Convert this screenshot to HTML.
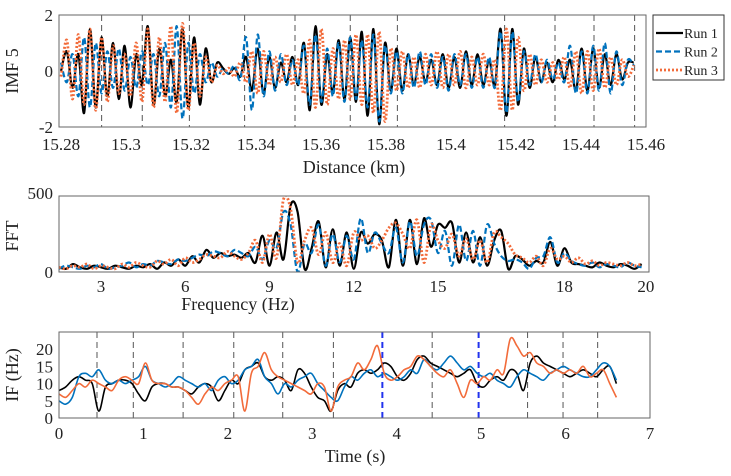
<!DOCTYPE html>
<html><head><meta charset="utf-8"><style>
body{margin:0;background:#fff}
svg text{font-family:"Liberation Serif",serif;fill:#222}
</style></head><body>
<svg id="s" width="731" height="471" xmlns="http://www.w3.org/2000/svg"></svg>
<script>
// ---------- data ----------
const imfStart=15.28, imfStep=0.00178;
const imfRun1=[0,0.7,-0.6,0.6,-1.5,1.5,-1.3,1.2,-0.9,1.0,-1.0,0.9,-1.3,0.6,-0.5,1.6,-1.2,0.8,-0.9,0.4,-1.1,1.5,-1.3,1.2,-1.2,0.8,-0.4,0.3,0.1,-0.1,0.1,-0.2,0.5,-0.7,0.8,-0.8,0.5,-0.6,0.3,-0.4,0.5,-0.5,1.0,-1.4,1.6,-1.2,0.6,-0.8,1.1,-1.0,1.2,-1.1,1.4,-1.6,1.5,-1.9,1.0,-0.7,0.8,-0.7,0.6,-0.5,0.5,-0.4,0.4,-0.5,0.6,-0.6,0.5,-0.6,0.7,-0.5,0.6,-0.5,0.4,-0.5,1.5,-1.6,1.5,-1.2,0.8,-0.6,0.5,-0.4,0.3,-0.4,0.4,-0.3,0.4,-0.7,0.8,-0.7,0.8,-0.6,0.6,-0.5,0.6,-0.3,0.3,0.3];
const imfRun2=[0.3,-0.4,0.6,-0.9,1.2,-1.3,1.0,-0.8,0.7,-0.6,0.8,-0.7,0.5,-0.6,0.7,-0.5,0.6,-0.9,1.0,-1.3,1.6,-1.7,1.0,-0.8,0.6,-0.4,0.3,-0.2,0.1,-0.1,0.2,-0.3,1.2,-1.4,1.3,-0.9,0.7,-0.7,0.6,-0.5,0.4,-0.5,0.9,-1.2,1.3,-1.1,0.8,-0.9,1.0,-1.1,1.2,-1.0,1.1,-1.3,1.3,-1.8,0.9,-0.8,0.7,-0.8,0.6,-0.6,0.7,-0.5,0.6,-0.6,0.5,-0.7,0.6,-0.5,0.6,-0.6,0.5,-0.6,0.5,-0.6,1.4,-1.5,1.4,-1.1,0.7,-0.5,0.6,-0.4,0.4,-0.3,0.3,-0.4,0.9,-0.8,0.7,-0.8,0.9,-0.7,1.0,-0.8,0.7,-0.5,0.4,0.2];
const imfRun3=[-0.2,1.1,-1.0,1.3,-1.2,1.5,-1.4,1.2,-1.1,0.9,-0.8,0.6,-0.9,1.0,-1.1,1.5,-1.3,1.2,-1.1,1.6,-1.5,1.7,-1.4,1.0,-0.9,0.5,-0.4,0.2,-0.1,0.1,-0.2,0.3,-0.4,0.7,-0.8,0.7,-0.5,0.5,-0.4,0.6,-0.5,0.4,-0.8,1.1,-1.3,1.5,-1.2,0.8,-1.0,1.1,-1.0,1.3,-1.2,1.3,-1.5,1.4,-1.8,0.8,-0.7,0.7,-0.6,0.5,-0.6,0.6,-0.5,0.7,-0.6,0.6,-0.5,0.7,-0.6,0.5,-0.5,0.6,-0.5,0.4,-1.4,1.5,-1.4,1.2,-0.7,0.6,-0.5,0.4,-0.4,0.3,-0.3,0.5,-0.6,0.7,-0.8,0.7,-0.7,0.8,-0.6,0.5,-0.5,0.4,-0.2,0.2];
const imfDashes=[15.2925,15.305,15.3195,15.3365,15.352,15.369,15.3835,15.4165,15.432,15.444,15.4565];
const imfXTicks=[15.28,15.3,15.32,15.34,15.36,15.38,15.4,15.42,15.44,15.46];
const imfXLabels=["15.28","15.3","15.32","15.34","15.36","15.38","15.4","15.42","15.44","15.46"];
const imfYTicks=[-2,0,2];

const fftStart=1.5, fftStep=0.25;
const fftRun1=[30,20,50,30,20,40,30,20,40, 30,20,40,30,50,20,60,40, 80,40,100,60,140,90,120,100, 110,90,120,60,230,40,250,80, 420,380,20,150,320,30,270,40, 250,20,250,180,240,200,30,330, 40,330,50,340,160,300,280,310, 60,250,60,220,40,200,260,20, 100,80,40,70,60,190,40,150, 60,50,40,30,60,40,30,50,40,20,50];
const fftRun2=[20,40,30,20,40,30,50,20,30, 40,60,30,50,40,70,60,50, 80,70,90,110,100,130,120,100, 140,120,100,160,80,200,150,380, 300,0,180,120,300,40,240,60, 230,80,340,120,250,180,120,280, 60,320,100,300,330,120,260,40, 300,70,260,40,300,180,100,70, 80,60,20,90,100,220,60,120, 70,50,40,60,30,50,40,30,60,40,30];
const fftRun3=[30,20,40,30,50,20,40,30,20, 50,30,60,40,30,70,50,80, 40,90,60,80,110,100,90,130, 100,80,120,200,60,240,90,460, 400,60,200,280,110,250,60,180, 40,250,200,230,150,200,280,310, 240,150,330,60,300,200,150,240, 100,210,80,200,60,250,220,180, 110,90,60,100,40,150,80,100, 60,90,50,70,40,60,50,40,60,40,50];
const fftXTicks=[3,6,9,12,15,19.5,22.4];
const fftXLabels=["3","6","9","12","15","18","20"];
const fftYTicks=[0,500];

const ifStart=0, ifStep=0.0786;
const ifRun1=[8,9,11,12,11,10,2,9,10,11,11,10,7,5,9,10,10,9,9,8,7,9,10,9,5,8,11,10,14,15,16,12,11,12,11,8,14,13,9,6,5,2,8,10,9,13,14,13,14,16,15,12,11,13,17,18,16,15,14,13,12,13,14,10,9,11,12,11,14,13,8,16,18,16,15,14,13,12,13,14,13,12,14,15,10];
const ifRun2=[5,4,6,12,13,12,14,11,10,11,10,11,12,15,11,10,9,10,12,11,10,9,10,8,11,12,10,11,14,15,17,12,10,7,10,9,11,12,13,10,8,6,5,9,12,11,13,14,12,13,12,11,12,14,13,17,15,14,16,18,16,14,15,13,12,13,11,10,9,12,14,13,12,11,13,14,15,14,13,12,12,14,16,15,11];
const ifRun3=[7,6,8,10,9,11,10,9,8,11,12,11,10,16,11,10,10,9,9,8,6,4,7,9,8,10,11,12,2,13,15,19,14,12,11,10,9,8,7,10,9,2,9,11,12,16,14,17,21,13,11,12,14,15,18,17,15,13,12,14,10,6,11,10,12,11,14,13,23,21,18,19,16,15,13,14,13,14,13,15,12,13,14,10,6];
const ifDashes=[0.45,0.88,1.47,2.07,2.65,3.25,3.83,4.42,4.97,5.55,5.97,6.38];
const ifBlueDashes=[3.83,4.97];
const ifXTicks=[0,1,2,3,4,5,6,7];
const ifYTicks=[0,5,10,15,20];

// ---------- drawing ----------
const svg=document.getElementById('s');const NS='http://www.w3.org/2000/svg';
function mk(tag,attrs,parent){const e=document.createElementNS(NS,tag);for(const k in attrs)e.setAttribute(k,attrs[k]);(parent||svg).appendChild(e);return e;}
function lin(d0,d1,r0,r1){return v=>r0+(v-d0)/(d1-d0)*(r1-r0);}
function smooth(pts){let d='M'+pts[0][0].toFixed(1)+','+pts[0][1].toFixed(1);for(let i=0;i<pts.length-1;i++){const p0=pts[i-1]||pts[i],p1=pts[i],p2=pts[i+1],p3=pts[i+2]||p2;const c1x=p1[0]+(p2[0]-p0[0])/6,c1y=p1[1]+(p2[1]-p0[1])/6,c2x=p2[0]-(p3[0]-p1[0])/6,c2y=p2[1]-(p3[1]-p1[1])/6;d+=`C${c1x.toFixed(1)},${c1y.toFixed(1)} ${c2x.toFixed(1)},${c2y.toFixed(1)} ${p2[0].toFixed(1)},${p2[1].toFixed(1)}`;}return d;}
function series(g,vals,start,step,xs,ys,style,name,clipId){const pts=vals.map((v,i)=>[xs(start+i*step),ys(v)]);const p=mk('path',Object.assign({d:smooth(pts),fill:'none','clip-path':`url(#${clipId})`},style),g);}
function frame(x0,y0,x1,y1,id){const c=mk('clipPath',{id:id});mk('rect',{x:x0,y:y0,width:x1-x0,height:y1-y0},c);}
const S1={stroke:'#000','stroke-width':2.2},S2={stroke:'#0072BD','stroke-width':2.2,'stroke-dasharray':'6,3'},S3={stroke:'#F26B3A','stroke-width':2.8,'stroke-dasharray':'2,2'};

// Panel 1
(function(){const X0=59,X1=646,Y0=15,Y1=127;const xs=lin(15.28,15.46,61,646),ys=lin(-2,2,Y1,Y0);
const g=mk('g',{});frame(X0,Y0,X1,Y1,'c1');
imfDashes.forEach(v=>{const l=mk('line',{x1:xs(v),x2:xs(v),y1:Y0,y2:Y1,stroke:'#555','stroke-width':1,'stroke-dasharray':'6,4'},g);});
series(g,imfRun1,imfStart,imfStep,xs,ys,S1,'imf-run1','c1');series(g,imfRun2,imfStart,imfStep,xs,ys,S2,'imf-run2','c1');series(g,imfRun3,imfStart,imfStep,xs,ys,S3,'imf-run3','c1');
mk('rect',{x:X0,y:Y0,width:X1-X0,height:Y1-Y0,fill:'none',stroke:'#666'},g);
imfXTicks.forEach((v,i)=>{const t=mk('text',{x:xs(v),y:150,'font-size':17,'text-anchor':'middle'},g);t.textContent=imfXLabels[i];});
imfYTicks.forEach(v=>{const t=mk('text',{x:53,y:ys(v)+6,'font-size':17,'text-anchor':'end'},g);t.textContent=v;});
let t=mk('text',{x:354,y:173,'font-size':18,'text-anchor':'middle'},g);t.textContent='Distance (km)';
t=mk('text',{x:0,y:0,'font-size':18,'text-anchor':'middle',transform:'translate(18,71) rotate(-90)'},g);t.textContent='IMF 5';
const lg=mk('g',{},g);
mk('rect',{x:653,y:15,width:71,height:65,fill:'#fff',stroke:'#333'},lg);
[[S1,'Run 1'],[S2,'Run 2'],[S3,'Run 3']].forEach((a,i)=>{const y=33+i*18.5;mk('line',Object.assign({x1:656,x2:683,y1:y,y2:y},a[0]),lg);const tt=mk('text',{x:684,y:y+5,'font-size':14},lg);tt.textContent=a[1];});
})();

// Panel 2
(function(){const X0=59,X1=649,Y0=196,Y1=272;const xs=lin(3,15,101,438),ys=lin(0,500,Y1,Y0-3);
const g=mk('g',{});frame(X0,Y0,X1,Y1,'c2');
series(g,fftRun1,fftStart,fftStep,xs,ys,S1,'fft-run1','c2');series(g,fftRun2,fftStart,fftStep,xs,ys,S2,'fft-run2','c2');series(g,fftRun3,fftStart,fftStep,xs,ys,S3,'fft-run3','c2');
mk('rect',{x:X0,y:Y0,width:X1-X0,height:Y1-Y0,fill:'none',stroke:'#666'},g);
fftXTicks.forEach((v,i)=>{const t=mk('text',{x:xs(v),y:292,'font-size':17,'text-anchor':'middle'},g);t.textContent=fftXLabels[i];});
fftYTicks.forEach(v=>{const t=mk('text',{x:53,y:ys(v)+6,'font-size':17,'text-anchor':'end'},g);t.textContent=v;});
let t=mk('text',{x:238,y:310,'font-size':18,'text-anchor':'middle'},g);t.textContent='Frequency (Hz)';
t=mk('text',{x:0,y:0,'font-size':18,'text-anchor':'middle',transform:'translate(18,236) rotate(-90)'},g);t.textContent='FFT';
})();

// Panel 3
(function(){const X0=59,X1=650,Y0=332,Y1=418;const xs=lin(0,7,X0,X1),ys=lin(0,25,Y1,Y0);
const g=mk('g',{});frame(X0,Y0,X1,Y1,'c3');
ifDashes.forEach(v=>{const blue=ifBlueDashes.includes(v);const l=mk('line',{x1:xs(v),x2:xs(v),y1:Y0,y2:Y1,stroke:blue?'#2233ee':'#555','stroke-width':blue?2:1,'stroke-dasharray':'6,4'},g);});
series(g,ifRun1,ifStart,ifStep,xs,ys,{stroke:'#000','stroke-width':1.6},'if-run1','c3');series(g,ifRun2,ifStart,ifStep,xs,ys,{stroke:'#0072BD','stroke-width':1.6},'if-run2','c3');series(g,ifRun3,ifStart,ifStep,xs,ys,{stroke:'#F26B3A','stroke-width':1.6},'if-run3','c3');
mk('rect',{x:X0,y:Y0,width:X1-X0,height:Y1-Y0,fill:'none',stroke:'#666'},g);
ifXTicks.forEach(v=>{const t=mk('text',{x:xs(v),y:439,'font-size':17,'text-anchor':'middle'},g);t.textContent=v;});
ifYTicks.forEach(v=>{const t=mk('text',{x:53,y:ys(v)+6,'font-size':17,'text-anchor':'end'},g);t.textContent=v;});
let t=mk('text',{x:355,y:462,'font-size':18,'text-anchor':'middle'},g);t.textContent='Time (s)';
t=mk('text',{x:0,y:0,'font-size':18,'text-anchor':'middle',transform:'translate(18,375) rotate(-90)'},g);t.textContent='IF (Hz)';
})();
</script>
</body></html>
